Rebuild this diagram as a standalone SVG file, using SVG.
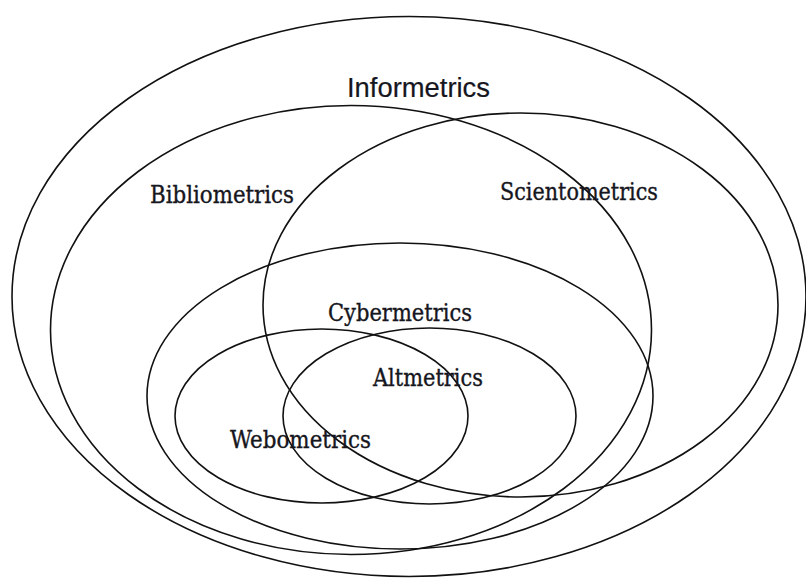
<svg xmlns="http://www.w3.org/2000/svg" width="806" height="578" viewBox="0 0 806 578">
  <style>
    .set { fill: none; stroke: #111; stroke-width: 1.6; }
    .lbl { font-family: "DejaVu Serif Condensed", "DejaVu Serif", "Liberation Serif", serif; font-stretch: condensed; font-size: 25px; fill: #161620; stroke: #161620; stroke-width: 0.35; }
    .top { font-family: "Liberation Sans", Arial, sans-serif; font-size: 27px; fill: #161620; stroke: #161620; stroke-width: 0.2; }
  </style>
  <rect width="806" height="578" fill="#fff"/>

  <g id="informetrics">
    <ellipse class="set" cx="409" cy="296.5" rx="397" ry="280"/>
    <text class="top" x="347" y="97" textLength="143" lengthAdjust="spacingAndGlyphs">Informetrics</text>
  </g>

  <g id="bibliometrics">
    <ellipse class="set" cx="351" cy="330" rx="300.5" ry="224.5"/>
    <text class="lbl" x="150" y="203" textLength="144" lengthAdjust="spacingAndGlyphs">Bibliometrics</text>
  </g>

  <g id="scientometrics">
    <ellipse class="set" cx="520.5" cy="305" rx="257.5" ry="192"/>
    <text class="lbl" x="500" y="200" textLength="158" lengthAdjust="spacingAndGlyphs">Scientometrics</text>
  </g>

  <g id="cybermetrics">
    <ellipse class="set" cx="400" cy="396" rx="253" ry="153"/>
    <text class="lbl" x="328" y="321" textLength="144" lengthAdjust="spacingAndGlyphs">Cybermetrics</text>
  </g>

  <g id="webometrics">
    <ellipse class="set" cx="321.5" cy="416" rx="146.5" ry="87"/>
    <text class="lbl" x="230" y="448" textLength="141" lengthAdjust="spacingAndGlyphs">Webometrics</text>
  </g>

  <g id="altmetrics">
    <ellipse class="set" cx="429.5" cy="416" rx="146.5" ry="88"/>
    <text class="lbl" x="373" y="386" textLength="110" lengthAdjust="spacingAndGlyphs">Altmetrics</text>
  </g>
</svg>
